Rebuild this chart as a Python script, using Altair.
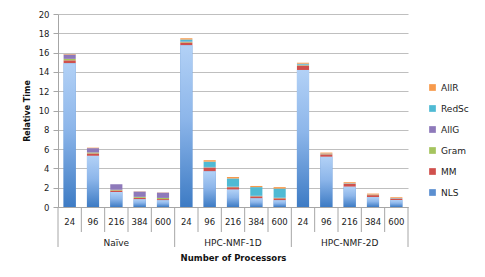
import altair as alt
import pandas as pd

groups = ["Naïve", "HPC-NMF-1D", "HPC-NMF-2D"]
procs = ["24", "96", "216", "384", "600"]
series = ["NLS", "MM", "Gram", "AllG", "RedSc", "AllR"]
colors = ["#5B8FD0", "#D0504D", "#A5C45E", "#8E79BA", "#4FBAD4", "#F79A4C"]

NLS = [14.9, 5.3, 1.55, 0.8, 0.7, 16.75, 3.7, 1.8, 0.9, 0.7, 14.2, 5.2, 2.1, 1.03, 0.72]
MM = [0.3, 0.25, 0.15, 0.15, 0.12, 0.3, 0.35, 0.25, 0.2, 0.2, 0.45, 0.25, 0.3, 0.2, 0.15]
Gram = [0.15, 0.1, 0.1, 0.1, 0.12, 0.05, 0.05, 0.03, 0.03, 0.03, 0.05, 0.03, 0.03, 0.02, 0.02]
AllG = [0.45, 0.45, 0.55, 0.55, 0.55, 0.05, 0.05, 0.03, 0.03, 0.03, 0.05, 0.03, 0.02, 0.02, 0.02]
RedSc = [0.0, 0.0, 0.0, 0.0, 0.0, 0.2, 0.55, 0.85, 0.9, 0.95, 0.1, 0.03, 0.02, 0.02, 0.02]
AllR = [0.05, 0.05, 0.02, 0.02, 0.02, 0.15, 0.15, 0.15, 0.12, 0.15, 0.1, 0.1, 0.1, 0.1, 0.08]
values = [NLS, MM, Gram, AllG, RedSc, AllR]

cats = [f"{g}|{p}" for g in groups for p in procs]

rows = []
for si, (s, vals) in enumerate(zip(series, values)):
    for c, v in zip(cats, vals):
        rows.append({"cat": c, "series": s, "idx": si, "value": v})
df = pd.DataFrame(rows)

legend_order = series[::-1]
legend_colors = colors[::-1]

W, H = 350, 193
FONT = "DejaVu Sans"

xscale = alt.Scale(domain=cats, paddingInner=0, paddingOuter=0)
yscale = alt.Scale(domain=[0, 20])
xaxis = alt.Axis(title="Number of Processors", labelExpr="split(datum.value, '|')[1]",
                 labelAngle=0, ticks=False, labelPadding=10, labelFontSize=8.5,
                 labelOverlap=False, labelColor="#222222", domainColor="#A6A6A6",
                 titleFontSize=8.5, titleFontWeight="bold", titleY=50,
                 titleBaseline="middle", titleColor="#111111")
yaxis = alt.Axis(title="Relative Time", values=list(range(0, 21, 2)), tickSize=5,
                 tickColor="#A6A6A6", domainColor="#A6A6A6", gridColor="#BFBFBF",
                 labelFontSize=8.5, labelPadding=4, labelColor="#222222", labelOverlap=False,
                 titleFontSize=8, titleFontWeight="bold", titlePadding=7,
                 titleColor="#111111")

def X(**kw):
    return alt.X("cat:N", scale=xscale, axis=xaxis, title="Number of Processors", **kw)

bars = alt.Chart(df).mark_bar(width=alt.RelativeBandSize(0.52)).encode(
    x=X(),
    y=alt.Y("value:Q", stack="zero", scale=yscale, axis=yaxis, title="Relative Time"),
    color=alt.Color("series:N", scale=alt.Scale(domain=legend_order, range=legend_colors),
                    legend=alt.Legend(title=None, orient="none", legendX=370, legendY=69,
                                      symbolType="square", symbolSize=45, symbolStrokeWidth=0,
                                      labelFontSize=9, rowPadding=11, labelOffset=4,
                                      labelColor="#222222")),
    order=alt.Order("idx:Q", sort="ascending"),
)

nls_grad = alt.Chart(df).transform_filter(alt.datum.series == "NLS").mark_bar(
    width=alt.RelativeBandSize(0.52),
    color=alt.Gradient(gradient="linear", x1=0, y1=0, x2=0, y2=1,
                       stops=[alt.GradientStop(color="#B2D1F6", offset=0),
                              alt.GradientStop(color="#8DB6EA", offset=0.45),
                              alt.GradientStop(color="#3D7BC4", offset=1)]),
).encode(
    x=X(),
    y=alt.Y("value:Q", scale=yscale, axis=yaxis, title="Relative Time"),
)

first_cats = [f"{g}|{procs[0]}" for g in groups]
short_cats = [c for c in cats if c not in first_cats]
sep_short = pd.DataFrame({"cat": short_cats})
sep_long = pd.DataFrame({"cat": first_cats})
sep_end = pd.DataFrame({"cat": [cats[-1]]})

rule_short = alt.Chart(sep_short).mark_rule(color="#A6A6A6").encode(
    x=X(bandPosition=0), y=alt.value(H), y2=alt.value(H + 25))
rule_long = alt.Chart(sep_long).mark_rule(color="#A6A6A6").encode(
    x=X(bandPosition=0), y=alt.value(H), y2=alt.value(H + 40))
rule_end = alt.Chart(sep_end).mark_rule(color="#A6A6A6").encode(
    x=X(bandPosition=1), y=alt.value(H), y2=alt.value(H + 40))

grp_df = pd.DataFrame({"cat": [f"{g}|{procs[2]}" for g in groups], "label": groups})
grp_text = alt.Chart(grp_df).mark_text(fontSize=9, baseline="middle", color="#222222", font=FONT).encode(
    x=X(),
    y=alt.value(H + 36),
    text="label:N",
)

chart = alt.layer(bars, nls_grad, rule_short, rule_long, rule_end, grp_text).properties(
    width=W, height=H,
    autosize=alt.AutoSizeParams(type="none"),
    padding={"left": 50, "top": 6, "right": 69, "bottom": 62},
).configure(font=FONT).configure_view(strokeWidth=0)

chart.save("out.html", embed_options={"renderer": "svg", "actions": False})
